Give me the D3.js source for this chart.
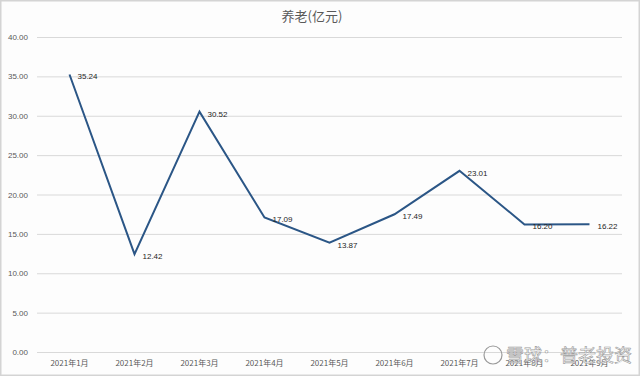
<!DOCTYPE html>
<html>
<head>
<meta charset="utf-8">
<script src="https://cdn.jsdelivr.net/npm/d3@7"></script>
<style>
  body { margin: 0; background: #fff; }
  text { font-family: "Liberation Sans", "DejaVu Sans", sans-serif; }
</style>
</head>
<body>
<div id="chart"></div>
<script>
const width = 640;
const height = 376;

const margin = { top: 37, right: 18, bottom: 24, left: 37 };

// data
const months = ["2021年1月", "2021年2月", "2021年3月", "2021年4月", "2021年5月",
                "2021年6月", "2021年7月", "2021年8月", "2021年9月"];
const values = [35.24, 12.42, 30.52, 17.09, 13.87, 17.49, 23.01, 16.20, 16.22];
const yTicks = [0, 5, 10, 15, 20, 25, 30, 35, 40];

const svg = d3.select("#chart")
  .append("svg")
  .attr("width", width)
  .attr("height", height);

// outer frame
svg.append("rect")
  .attr("x", 0.5).attr("y", 0.5)
  .attr("width", width - 1).attr("height", height - 1)
  .attr("fill", "#fdfdfd")
  .attr("stroke", "#d4d4d4")
  .attr("stroke-width", 2);

const xScale = d3.scaleBand()
  .domain(months)
  .range([margin.left, width - margin.right]);

const yScale = d3.scaleLinear()
  .domain([0, 40])
  .range([height - margin.bottom, margin.top]);

// title
svg.append("text")
  .attr("x", 312)
  .attr("y", 21)
  .attr("text-anchor", "middle")
  .attr("font-size", "13px")
  .attr("fill", "#595959")
  .style("font-family", "'Noto Sans CJK SC', sans-serif")
  .text("养老(亿元)");

// gridlines + y labels
const yAxis = svg.append("g")
  .attr("transform", "translate(" + margin.left + ",0)")
  .call(d3.axisLeft(yScale)
    .tickValues(yTicks)
    .tickSize(-(width - margin.left - margin.right))
    .tickPadding(9)
    .tickFormat(d3.format(".2f")));

yAxis.select(".domain").remove();
yAxis.selectAll(".tick line")
  .attr("stroke", "#d9d9d9")
  .attr("stroke-width", 1);
yAxis.selectAll(".tick text")
  .attr("font-size", "8px")
  .attr("fill", "#595959");

// x labels
const xAxis = svg.append("g")
  .attr("transform", "translate(0," + (height - margin.bottom) + ")")
  .call(d3.axisBottom(xScale).tickSize(0).tickPadding(8));

xAxis.select(".domain").remove();
xAxis.selectAll(".tick text")
  .attr("font-size", "8px")
  .attr("fill", "#595959")
  .style("font-family", "'Noto Sans CJK SC', sans-serif");

const chartData = months.map(function(m, i) {
  return { month: m, value: values[i] };
});

const line = d3.line()
  .x(function(d) { return xScale(d.month) + xScale.bandwidth() / 2; })
  .y(function(d) { return yScale(d.value); });

svg.append("path")
  .datum(chartData)
  .attr("fill", "none")
  .attr("stroke", "#2b5686")
  .attr("stroke-width", 2)
  .attr("d", line);

svg.selectAll(".val-label")
  .data(chartData)
  .enter()
  .append("text")
  .attr("class", "val-label")
  .attr("x", function(d) { return xScale(d.month) + xScale.bandwidth() / 2 + 8; })
  .attr("y", function(d) { return yScale(d.value) + 5; })
  .attr("font-size", "8px")
  .attr("fill", "#262626")
  .text(function(d) { return d.value.toFixed(2); });

// watermark
svg.append("text")
  .attr("x", 632)
  .attr("y", 362)
  .attr("text-anchor", "end")
  .attr("font-size", "18px")
  .attr("fill", "#ffffff")
  .attr("fill-opacity", 0.75)
  .attr("stroke", "#9a9a9a")
  .attr("stroke-width", 0.6)
  .style("font-family", "'Noto Sans CJK SC', sans-serif")
  .text("雪球：普老投资");

svg.append("circle")
  .attr("cx", 493)
  .attr("cy", 355)
  .attr("r", 9)
  .attr("fill", "none")
  .attr("stroke", "#9a9a9a")
  .attr("stroke-width", 1.2);
</script>
</body>
</html>
